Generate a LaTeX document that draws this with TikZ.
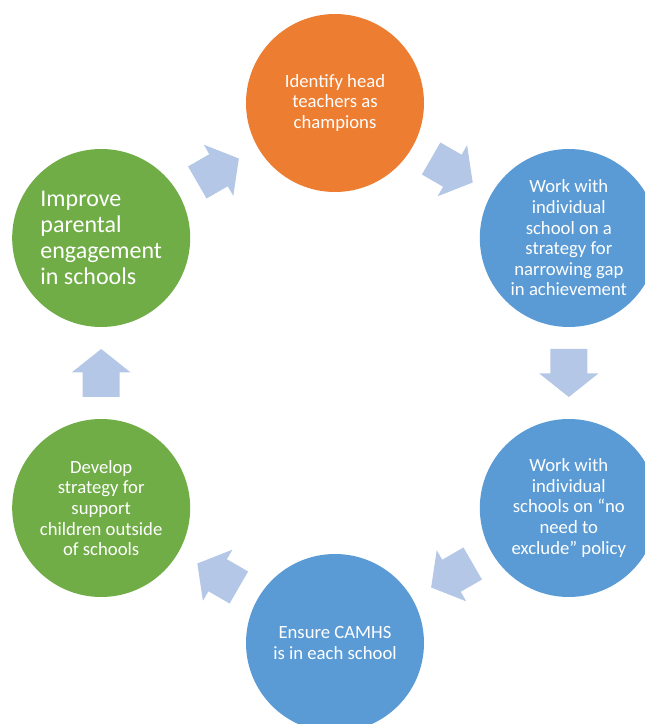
\documentclass[tikz,border=0pt]{standalone}
\usepackage{fontspec}
\setmainfont{Carlito}
\usetikzlibrary{calc}

\definecolor{stageorange}{HTML}{ED7D31}
\definecolor{stageblue}{HTML}{5B9BD5}
\definecolor{stagegreen}{HTML}{70AD47}
\definecolor{arrowblue}{HTML}{B4C7E7}

\tikzset{
  stage/.style={circle, minimum size=178pt, inner sep=0pt, text=white,
    align=center, font=\fontsize{18.7}{20.6}\selectfont},
  flowarrow/.pic={
    \fill[arrowblue] (-24,-18.5) -- (0.5,-18.5) -- (0.5,-29.5) -- (24,0)
      -- (0.5,29.5) -- (0.5,18.5) -- (-24,18.5) -- cycle;
  },
}

\begin{document}
\begin{tikzpicture}[x=1pt,y=1pt]
  \clip (0,0) rectangle (645,724);
  \coordinate (c) at (335,351);

  % the six stages round the cycle
  \node[stage, fill=stageorange] (heads) at ($(c)+(90:270)$)
    {Identify head\\teachers as\\champions};
  \node[stage, fill=stageblue] (gap) at ($(c)+(30:270)$)
    {Work with\\individual\\school on a\\strategy for\\narrowing gap\\in achievement};
  \node[stage, fill=stageblue] (exclude) at ($(c)+(-30:270)$)
    {Work with\\individual\\schools on “no\\need to\\exclude” policy};
  \node[stage, fill=stageblue] (camhs) at ($(c)+(-90:270)$)
    {Ensure CAMHS\\is in each school};
  \node[stage, fill=stagegreen] (outside) at ($(c)+(-150:270)$)
    {Develop\\strategy for\\support\\children outside\\of schools};
  \node[stage, fill=stagegreen, align=left, font=\fontsize{24}{26}\selectfont]
    (parents) at ($(c)+(150:270)$)
    {Improve\\parental\\engagement\\in schools};

  % block arrows, clockwise
  \pic[rotate=-30] at ($(heads)!0.5!(gap)$) {flowarrow};
  \pic[rotate=-90] at ($(gap)!0.5!(exclude)$) {flowarrow};
  \pic[rotate=-150] at ($(exclude)!0.5!(camhs)$) {flowarrow};
  \pic[rotate=150] at ($(camhs)!0.5!(outside)$) {flowarrow};
  \pic[rotate=90] at ($(outside)!0.5!(parents)$) {flowarrow};
  \pic[rotate=30] at ($(parents)!0.5!(heads)$) {flowarrow};
\end{tikzpicture}
\end{document}
